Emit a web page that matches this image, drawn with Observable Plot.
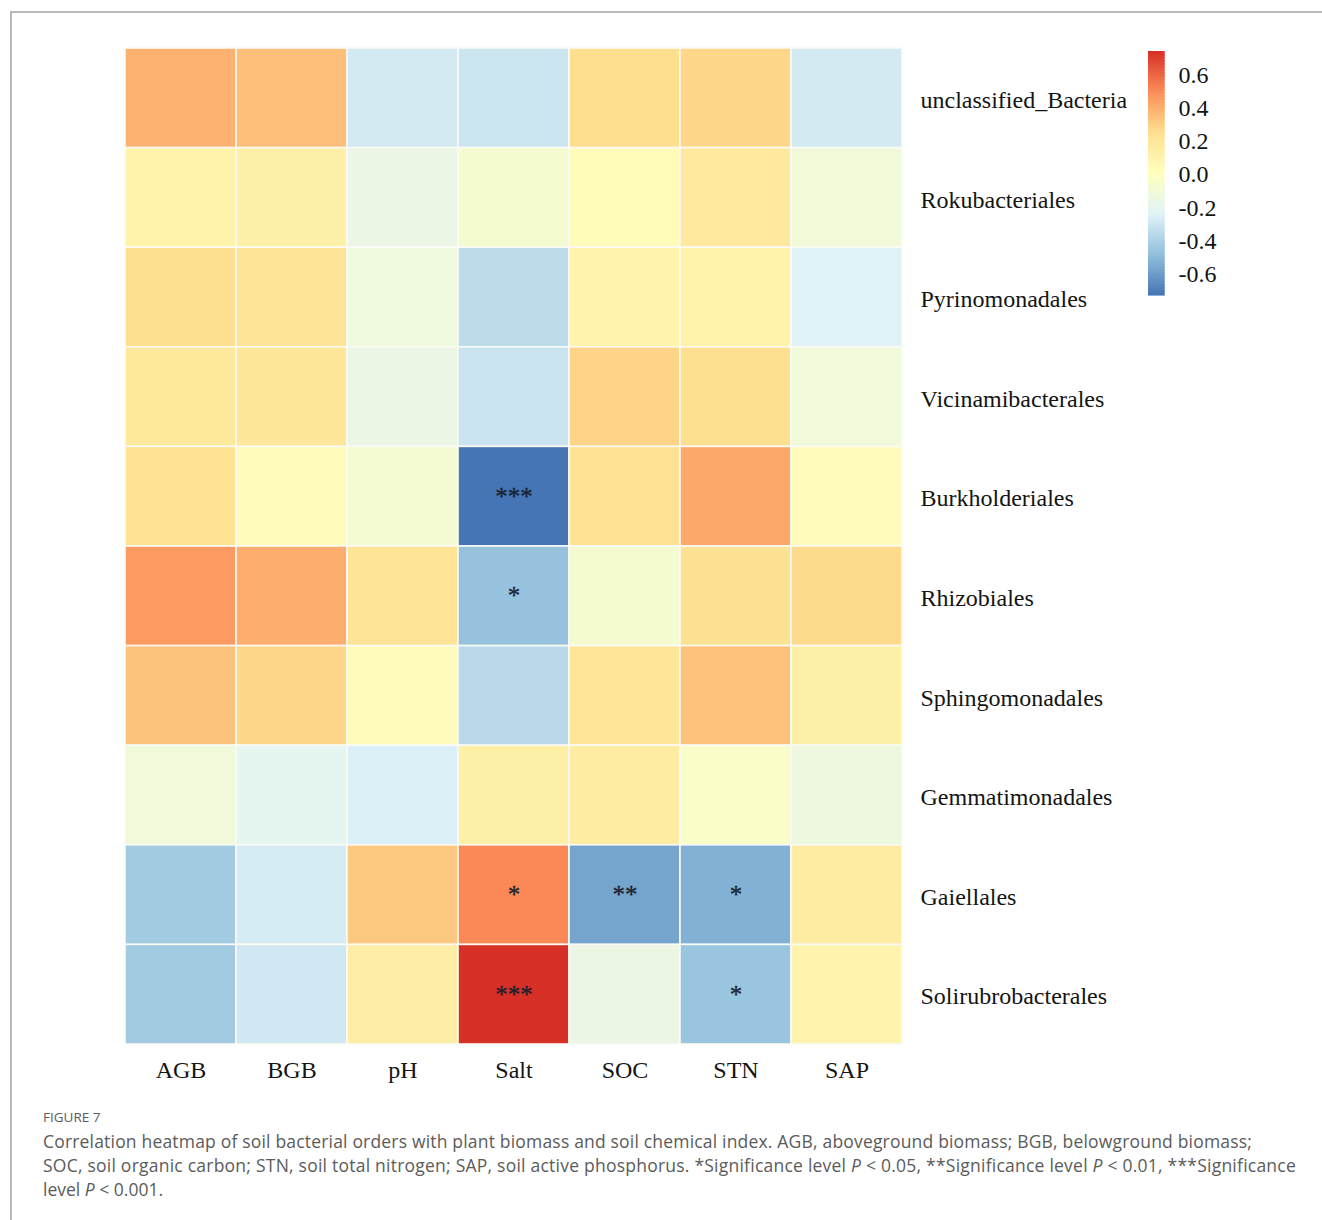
<!DOCTYPE html>
<html>
<head>
<meta charset="utf-8">
<script src="https://cdn.jsdelivr.net/npm/d3@7"></script>
<script src="https://cdn.jsdelivr.net/npm/@observablehq/plot@0.6"></script>
<style>
  html, body { margin: 0; padding: 0; background: #fff; }
  body { width: 1322px; height: 1220px; position: relative; overflow: hidden; }
  .frame { position: absolute; left: 10px; top: 11px; width: 1400px; height: 1300px;
           border-left: 2px solid #b9b9b9; border-top: 2px solid #b9b9b9; }
  #chart { position: absolute; left: 0; top: 0; }
  #legend { position: absolute; left: 1140px; top: 40px; }
  .cap { position: absolute; left: 43px; font-family: "Open Sans", Lato, sans-serif;
         color: #5b5b5b; white-space: nowrap; }
  .fig { top: 1107px; font-size: 13.5px; line-height: 20px; }
  .line { font-size: 17.5px; line-height: 24px; }
</style>
</head>
<body>
<div class="frame"></div>
<div id="chart"></div>
<div id="legend"></div>
<div class="cap fig">FIGURE 7</div>
<div class="cap line" style="top:1129px">Correlation heatmap of soil bacterial orders with plant biomass and soil chemical index. AGB, aboveground biomass; BGB, belowground biomass;</div>
<div class="cap line" style="top:1153px">SOC, soil organic carbon; STN, soil total nitrogen; SAP, soil active phosphorus. *Significance level <i>P</i> &lt; 0.05, **Significance level <i>P</i> &lt; 0.01, ***Significance</div>
<div class="cap line" style="top:1177px">level <i>P</i> &lt; 0.001.</div>
<script>
// Environmental variables (columns) and bacterial orders (rows, top to bottom)
const variables = ["AGB", "BGB", "pH", "Salt", "SOC", "STN", "SAP"];
const orders = [
  "unclassified_Bacteria", "Rokubacteriales", "Pyrinomonadales", "Vicinamibacterales",
  "Burkholderiales", "Rhizobiales", "Sphingomonadales", "Gemmatimonadales",
  "Gaiellales", "Solirubrobacterales"
];

// Pearson correlation of each order with each variable (same order as `variables`)
const unclassifiedBacteria = [0.39, 0.35, -0.28, -0.30, 0.26, 0.28, -0.28];
const rokubacteriales      = [0.11, 0.13, -0.15, -0.07, 0.04, 0.18, -0.10];
const pyrinomonadales      = [0.25, 0.22, -0.12, -0.35, 0.10, 0.11, -0.23];
const vicinamibacterales   = [0.19, 0.20, -0.15, -0.31, 0.29, 0.25, -0.11];
const burkholderiales      = [0.23, 0.03, -0.08, -0.73, 0.23, 0.42, 0.03];
const rhizobiales          = [0.46, 0.40, 0.22, -0.47, -0.07, 0.24, 0.27];
const sphingomonadales     = [0.34, 0.28, 0.03, -0.36, 0.21, 0.345, 0.13];
const gemmatimonadales     = [-0.11, -0.20, -0.25, 0.13, 0.16, -0.03, -0.13];
const gaiellales           = [-0.43, -0.27, 0.32, 0.51, -0.575, -0.53, 0.16];
const solirubrobacterales  = [-0.43, -0.29, 0.15, 0.745, -0.15, -0.455, 0.10];

const correlations = [
  unclassifiedBacteria, rokubacteriales, pyrinomonadales, vicinamibacterales,
  burkholderiales, rhizobiales, sphingomonadales, gemmatimonadales,
  gaiellales, solirubrobacterales
];

// Significance marks: [order, variable, label]
const significance = [
  ["Burkholderiales", "Salt", "***"],
  ["Rhizobiales", "Salt", "*"],
  ["Gaiellales", "Salt", "*"],
  ["Gaiellales", "SOC", "**"],
  ["Gaiellales", "STN", "*"],
  ["Solirubrobacterales", "Salt", "***"],
  ["Solirubrobacterales", "STN", "*"]
];

// Reversed RdYlBu (7 classes), stretched evenly over the data range
const palette = ["#4575b4", "#91bfdb", "#e0f3f8", "#ffffbf", "#fee090", "#fc8d59", "#d73027"];

const table = orders.flatMap((order, i) =>
  variables.map((variable, j) => ({order, variable, r: correlations[i][j]})));
const stars = significance.map(([order, variable, label]) => ({order, variable, label}));

const [vmin, vmax] = d3.extent(table, d => d.r);
const colorDomain = palette.map((_, i) => vmin + i * (vmax - vmin) / (palette.length - 1));
const color = {type: "linear", domain: colorDomain, range: palette, interpolate: "rgb"};

const serif = "'Liberation Serif', 'Times New Roman', serif";

const heatmap = Plot.plot({
  width: 1322,
  height: 1095,
  marginTop: 48,
  marginBottom: 51,
  marginLeft: 125,
  marginRight: 420,
  style: {fontFamily: serif, fontSize: "24px", color: "#141414", background: "transparent"},
  x: {domain: variables, padding: 0, round: false, label: null, axis: "bottom", tickSize: 0, tickPadding: 16},
  y: {domain: orders, padding: 0, round: false, label: null, axis: null},
  color,
  marks: [
    Plot.cell(table, {x: "variable", y: "order", fill: "r", stroke: "#fbfbf6", strokeWidth: 1.6}),
    Plot.text(stars, {x: "variable", y: "order", text: "label", fontSize: 25,
                      fontFamily: serif, fill: "#18202e", stroke: "#18202e", strokeWidth: 0.3}),
    Plot.axisY({anchor: "right", tickSize: 0, tickPadding: 18, dy: 2, label: null})
  ]
});
document.getElementById("chart").append(heatmap);

// Vertical colour bar spanning the data range
const steps = 160;
const ramp = d3.range(steps).map(i => {
  const y1 = vmin + i * (vmax - vmin) / steps;
  const y2 = vmin + (i + 1) * (vmax - vmin) / steps;
  return {y1, y2, v: (y1 + y2) / 2};
});

const legend = Plot.plot({
  width: 140,
  height: 260,
  marginTop: 11,
  marginBottom: 5,
  marginLeft: 8,
  marginRight: 116,
  style: {fontFamily: serif, fontSize: "24px", color: "#141414", background: "transparent"},
  x: {domain: [0, 1], axis: null},
  y: {domain: [vmin, vmax], label: null, axis: "right", tickSize: 0, tickPadding: 14,
      ticks: [-0.6, -0.4, -0.2, 0, 0.2, 0.4, 0.6], tickFormat: d => d.toFixed(1)},
  color,
  marks: [
    Plot.rect(ramp, {x1: 0, x2: 1, y1: "y1", y2: "y2", fill: "v", stroke: "v",
                     strokeWidth: 0.6, shapeRendering: "crispEdges"})
  ]
});
document.getElementById("legend").append(legend);

// Stretch each caption line to the measure of the printed column
const captionWidths = [1209, 1253, null];
document.querySelectorAll(".cap.line").forEach((el, i) => {
  const target = captionWidths[i];
  if (!target) return;
  const w = el.getBoundingClientRect().width;
  const chars = el.textContent.length;
  el.style.letterSpacing = ((target - w) / chars).toFixed(3) + "px";
});
</script>
</body>
</html>
